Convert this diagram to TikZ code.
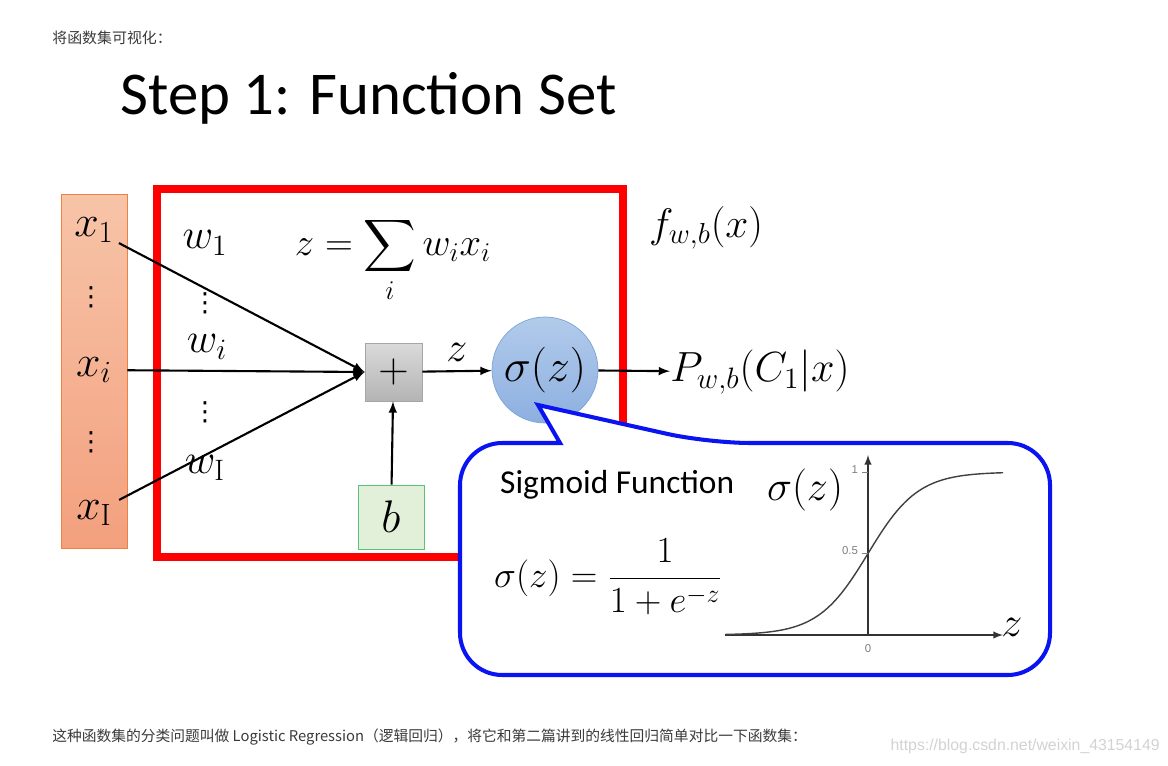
\documentclass[tikz,border=0pt]{standalone}
\usepackage{fix-cm}
\usepackage{exscale}
\usepackage{fontspec}
\newfontfamily\cjkfont{Noto Sans CJK SC}
\newfontfamily\slidefont{Carlito}
\newfontfamily\plotfont{Liberation Sans}
\newfontfamily\dotsfont{DejaVu Sans}

\definecolor{redframe}{HTML}{FF0000}
\definecolor{bluecallout}{HTML}{0A14F0}
\definecolor{inputtop}{HTML}{F7C4A8}
\definecolor{inputbottom}{HTML}{F3A07E}
\definecolor{inputdraw}{HTML}{EE8040}
\definecolor{plustop}{HTML}{DADADA}
\definecolor{plusbottom}{HTML}{B4B4B4}
\definecolor{biasfill}{HTML}{E2F0D9}
\definecolor{biasdraw}{HTML}{58C47A}
\definecolor{sigtop}{HTML}{B2CBEB}
\definecolor{sigbottom}{HTML}{8DAFE0}
\definecolor{sigdraw}{HTML}{7BA3D6}
\definecolor{pagetext}{HTML}{3A3A3A}

\tikzset{>=latex}

\begin{document}
\begin{tikzpicture}[x=0.02cm, y=-0.02cm]
	\tikzstyle{input_box} = [rectangle, draw=inputdraw, top color=inputtop, bottom color=inputbottom, minimum width=1.32cm, minimum height=7.08cm]
	\tikzstyle{input} = [minimum width=1.32cm, inner sep=0pt, font=\fontsize{25}{30}\selectfont]
	\tikzstyle{weight} = [inner sep=0pt, font=\fontsize{24}{28}\selectfont]
	\tikzstyle{dots} = [inner sep=0pt, font=\dotsfont\fontsize{15}{18}\selectfont]
	\tikzstyle{plus_box} = [rectangle, draw=gray!70, top color=plustop, bottom color=plusbottom, minimum width=1.14cm, minimum height=1.16cm, font=\fontsize{24}{28}\selectfont]
	\tikzstyle{bias_box} = [rectangle, draw=biasdraw, fill=biasfill, minimum width=1.32cm, minimum height=1.28cm, font=\fontsize{26}{30}\selectfont]
	\tikzstyle{sigma} = [circle, draw=sigdraw, top color=sigtop, bottom color=sigbottom, minimum size=2.12cm, inner sep=0pt, font=\fontsize{26}{30}\selectfont]
	\tikzstyle{edge} = [->, line width=1.2pt]
	\tikzstyle{plot_label} = [text=gray, font=\plotfont\fontsize{6.5}{8}\selectfont, inner sep=1pt]

	\useasboundingbox (0,0) rectangle (1168,766);

%----------page text------------------------------------------
	\node[anchor=west, inner sep=0pt, text=pagetext, font=\cjkfont\fontsize{8.5}{10}\selectfont] (intro) at (52,38) {将函数集可视化：};
	\node[anchor=west, inner sep=0pt, font=\slidefont\fontsize{34.6}{40}\selectfont] (title) at (120,98) {Step 1: Function Set};

%----------inputs---------------------------------------------
	\node[input_box] (xbox) at (94,371) {};
	\node[input] (x1) at (94,230) {$x_1$};
	\node[input] (xi) at (94,370) {$x_i$};
	\node[input] (xI) at (94,513) {$x_{\mathrm{I}}$};
	\node[dots] (xdots1) at (91,297) {⋮};
	\node[dots] (xdots2) at (91,442) {⋮};

%----------function box---------------------------------------
	\node[rectangle, draw=redframe, line width=4.5pt, minimum width=9.32cm, minimum height=7.36cm] (frame) at (390,373) {};

	\node[plus_box] (plus) at (393.5,372) {$+$};
	\node[bias_box] (b) at (391,517) {$b$};
	\node[sigma] (sig) at (545,370) {$\sigma(z)$};

	\node[weight] (w1) at (205,243) {$w_1$};
	\node[dots] (wdots1) at (205,303) {⋮};
	\node[weight] (wi) at (207,347) {$w_i$};
	\node[dots] (wdots2) at (205,412) {⋮};
	\node[weight] (wI) at (205,468) {$w_{\mathrm{I}}$};

	\node[weight, font=\fontsize{22}{26}\selectfont] (sum) at (393,260) {$\displaystyle z=\sum_i w_i x_i$};

	\path[edge] (x1) edge (plus.west);
	\path[edge] (xi) edge (plus.west);
	\path[edge] (xI) edge (plus.west);
	\path[edge] (b) edge (plus);
	\path[edge] (plus) edge node[weight, above=5pt] (zlabel) {$z$} (sig);

%----------outputs--------------------------------------------
	\node[weight, anchor=west, font=\fontsize{24}{28}\selectfont] (P) at (670,372) {$P_{w,b}(C_1|x)$};
	\node[weight, font=\fontsize{23.5}{28}\selectfont] (f) at (706,228) {$f_{w,b}(x)$};
	\path[edge] (sig) edge (P);

%----------callout--------------------------------------------
	\draw[bluecallout, line width=2.3pt, fill=white, rounded corners=24pt]
		(560,443) -- (460,443) -- (460,675) -- (1050,675) -- (1050,443) -- (708,443)
		[sharp corners] -- (538,405) -- cycle;

	\node[anchor=west, font=\slidefont\fontsize{19}{23}\selectfont] (sigtitle) at (494,485) {Sigmoid Function};
	\node[anchor=west, font=\fontsize{21}{26}\selectfont] (sigformula) at (488,577) {$\displaystyle \sigma(z)=\frac{1}{1+e^{-z}}$};

	\coordinate (o) at (868,635);
	\coordinate (zstart) at (725,635);
	\coordinate (zend) at (1003,635);
	\coordinate (sigend) at (868,455);
	\draw[->, line width=0.9pt, black!80] (zstart) -- (zend);
	\draw[->, line width=0.9pt, black!80] (o) -- (sigend);
	\draw[line width=0.8pt, black!75, domain=-5.7:5.4, samples=80, smooth]
		plot ({868+25*\x},{635-163/(1+exp(-\x))});

	\coordinate (tick1) at (868,472);
	\coordinate (tickhalf) at (868,553);
	\draw[gray] (tick1) -- ++(-6,0);
	\draw[gray] (tickhalf) -- ++(-6,0);
	\node[plot_label, anchor=east] (one) at (860,470) {1};
	\node[plot_label, anchor=east] (half) at (860,551) {0.5};
	\node[plot_label, anchor=north] (zero) at (o) [yshift=-4pt] {0};
	\node[weight, font=\fontsize{24}{28}\selectfont] (zaxis) at (1012,627) {$z$};
	\node[weight, font=\fontsize{24}{28}\selectfont] (sigaxis) at (805,490) {$\sigma(z)$};

%----------bottom text----------------------------------------
	\node[anchor=west, inner sep=0pt, text=pagetext, font=\cjkfont\fontsize{8.4}{10}\selectfont] (outro) at (52,737) {这种函数集的分类问题叫做 Logistic Regression（逻辑回归），将它和第二篇讲到的线性回归简单对比一下函数集：};
	\node[anchor=east, inner sep=0pt, text=gray!35, font=\plotfont\fontsize{9}{11}\selectfont] (mark) at (1160,746) {https://blog.csdn.net/weixin\_43154149};
\end{tikzpicture}
\end{document}
